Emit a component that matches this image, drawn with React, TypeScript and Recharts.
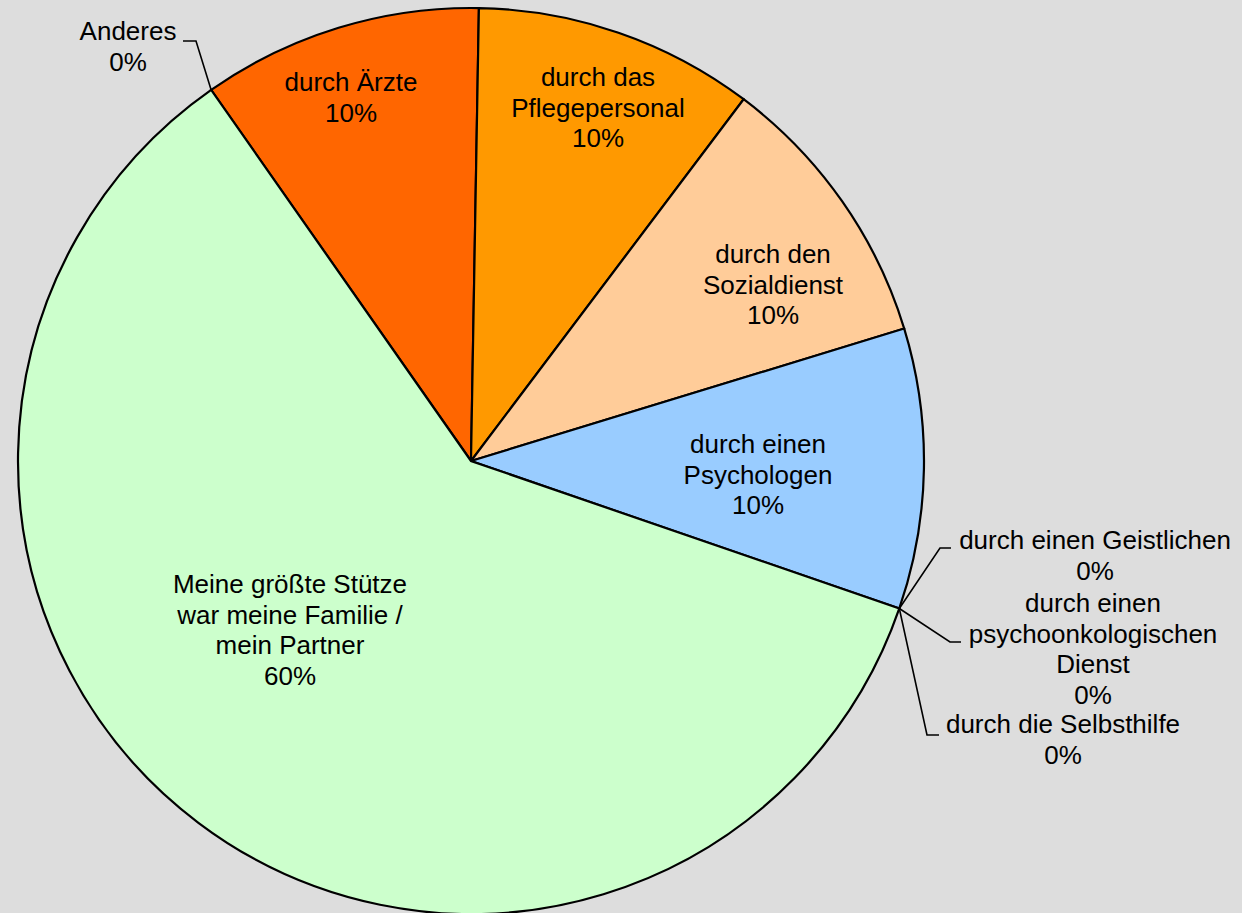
import React from "react";
import { PieChart, Pie, Cell } from "recharts";

// clockwise from the "Anderes" / "Ärzte" boundary
const categories = [
  "durch Ärzte",
  "durch das\nPflegepersonal",
  "durch den\nSozialdienst",
  "durch einen\nPsychologen",
  "durch einen Geistlichen",
  "durch einen\npsychoonkologischen\nDienst",
  "durch die Selbsthilfe",
  "Meine größte Stütze\nwar meine Familie /\nmein Partner",
  "Anderes",
];

const shares = [10, 10, 10, 10, 0, 0, 0, 60, 0];

const colors = [
  "#FF6600",
  "#FF9900",
  "#FFCC99",
  "#99CCFF",
  "#99CCFF",
  "#99CCFF",
  "#99CCFF",
  "#CCFFCC",
  "#CCFFCC",
];

const data = categories.map((name, i) => ({ name, value: shares[i] }));

// label placement relative to the pie centre: first baseline of the text block,
// plus leader-line elbow/end for the 0% slices
type Layout = { dx: number; dy: number; elbow?: [number, number]; end?: [number, number] };
const labelLayout: Layout[] = [
  { dx: -120, dy: -370 },
  { dx: 127, dy: -375 },
  { dx: 302, dy: -198 },
  { dx: 287, dy: -8 },
  { dx: 624, dy: 88, elbow: [469, 87], end: [480, 87] },
  { dx: 622, dy: 151, elbow: [479, 181], end: [490, 181] },
  { dx: 592, dy: 272, elbow: [456, 274], end: [468, 274] },
  { dx: -181, dy: 132 },
  { dx: -343, dy: -421, elbow: [-275, -420], end: [-288, -420] },
];

const RAD = Math.PI / 180;
const LINE = 30.7;

function renderLabel(props: any) {
  const { cx, cy, midAngle, outerRadius, percent, index } = props;
  const lay = labelLayout[index];
  const lines = [...categories[index].split("\n"), `${Math.round(percent * 100)}%`];
  const tx = cx + lay.dx;
  const ty = cy + lay.dy;
  let leader = null;
  if (lay.elbow && lay.end) {
    const ax = cx + outerRadius * Math.cos(-midAngle * RAD);
    const ay = cy + outerRadius * Math.sin(-midAngle * RAD);
    leader = (
      <polyline
        points={`${ax},${ay} ${cx + lay.elbow[0]},${cy + lay.elbow[1]} ${cx + lay.end[0]},${cy + lay.end[1]}`}
        fill="none"
        stroke="#000"
        strokeWidth={1.6}
      />
    );
  }
  return (
    <g key={`lbl-${index}`}>
      {leader}
      <text
        x={tx}
        y={ty}
        textAnchor="middle"
        fill="#000"
        fontSize={26}
        fontFamily="'Liberation Sans', Arial, sans-serif"
      >
        {lines.map((l, i) => (
          <tspan key={i} x={tx} dy={i === 0 ? 0 : LINE}>
            {l}
          </tspan>
        ))}
      </text>
    </g>
  );
}

export default function App() {
  return (
    <div
      style={{
        position: "absolute",
        left: 0,
        top: 0,
        width: 1242,
        height: 913,
        background: "#DDDDDD",
        overflow: "hidden",
      }}
    >
      <PieChart width={1242} height={913} margin={{ top: 0, right: 0, bottom: 0, left: 0 }}>
        <Pie
          data={data}
          dataKey="value"
          nameKey="name"
          cx={471}
          cy={461}
          outerRadius={453}
          startAngle={125}
          endAngle={-235}
          stroke="#000"
          strokeWidth={2.2}
          label={renderLabel}
          labelLine={false}
          isAnimationActive={false}
        >
          {data.map((d, i) => (
            <Cell key={d.name} fill={colors[i]} />
          ))}
        </Pie>
      </PieChart>
    </div>
  );
}
